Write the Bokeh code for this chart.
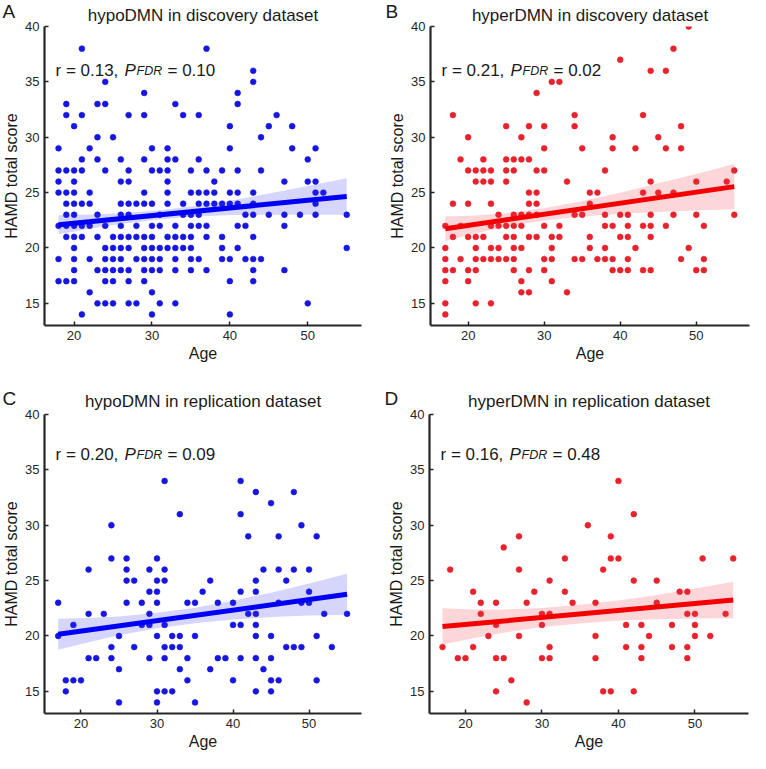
import numpy as np
from bokeh.plotting import figure
from bokeh.models import Label, FixedTicker, Range1d, Title
from bokeh.layouts import column, row
from bokeh.embed import file_html
from bokeh.resources import INLINE

A_levels = [38, 36, 35, 34, 33, 32, 31, 30, 29, 28, 27, 26, 25, 24, 23, 22, 21, 20, 19, 18, 17, 16, 15, 14]
A_ages = [
    [21, 37], [43], [24, 43], [29, 41], [19, 23, 24, 33, 41], [19, 21, 27, 29, 34, 36, 46],
    [20, 40, 45, 48], [23, 25, 44], [18, 22, 30, 32, 40, 48, 51], [21, 23, 26, 29, 32, 33, 36, 50],
    [18, 19, 20, 21, 24, 27, 30, 31, 32, 35, 37, 39, 41, 44],
    [18, 20, 26, 27, 32, 38, 47, 50, 51],
    [18, 19, 20, 22, 29, 32, 35, 36, 37, 38, 40, 41, 43, 51, 52],
    [19, 20, 21, 22, 26, 27, 28, 29, 30, 32, 34, 36, 37, 38, 39, 40, 41, 43, 51],
    [19, 20, 23, 26, 27, 31, 34, 35, 36, 42, 43, 45, 47, 49, 51, 55],
    [18, 19, 20, 21, 22, 24, 26, 28, 30, 31, 33, 35, 36, 37, 41, 42, 47],
    [19, 20, 21, 23, 25, 26, 27, 28, 29, 30, 32, 33, 34, 35, 37, 39, 43],
    [20, 24, 25, 26, 27, 29, 30, 31, 32, 33, 34, 35, 39, 41, 55],
    [18, 20, 22, 24, 25, 26, 28, 29, 30, 31, 33, 35, 36, 39, 40, 42, 43, 44],
    [20, 23, 24, 25, 26, 27, 29, 30, 31, 33, 35, 37, 43, 47],
    [18, 19, 20, 24, 25, 27, 29, 40, 43],
    [22, 30],
    [23, 24, 25, 27, 28, 31, 33, 50],
    [21, 30, 40],
]
A_fit_age = [18, 55]
A_fit_hamd = [22.10, 24.65]
A_band_age = [18, 22, 26, 31, 36, 40, 45, 50, 55]
A_band_hi = [22.95, 23.03, 23.13, 23.40, 23.84, 24.27, 24.91, 25.60, 26.30]
A_band_lo = [21.25, 21.73, 22.17, 22.60, 22.84, 22.97, 23.01, 23.00, 23.00]

B_levels = [40, 38, 37, 36, 35, 34, 32, 31, 30, 29, 28, 27, 26, 25, 24, 23, 22, 21, 20, 19, 18, 17, 16, 15, 14]
B_ages = [
    [49], [47], [40], [44, 46], [31, 32], [29], [18, 34, 43], [25, 28, 30, 34, 48], [20, 27, 39, 45],
    [30, 35, 39, 42, 46, 48], [19, 22, 25, 26, 27, 28],
    [20, 21, 22, 23, 25, 26, 29, 30, 38, 55],
    [21, 22, 23, 25, 33, 44, 50, 54],
    [28, 29, 36, 37, 43, 45, 47],
    [18, 20, 23, 28, 29, 36],
    [24, 26, 27, 28, 29, 34, 35, 38, 40, 41, 44, 47, 50, 55],
    [17, 19, 23, 24, 25, 26, 27, 30, 32, 38, 39, 41, 43, 44, 46, 51],
    [18, 20, 21, 22, 25, 26, 28, 29, 31, 32, 36, 40, 41, 44],
    [17, 21, 23, 24, 26, 27, 31, 36, 38, 42, 49],
    [17, 19, 21, 22, 23, 24, 25, 26, 30, 31, 34, 35, 37, 38, 39, 41, 48, 51],
    [17, 18, 20, 21, 26, 28, 30, 39, 40, 41, 43, 44, 50, 51],
    [17, 20, 27, 31],
    [27, 28, 33],
    [17, 21, 23],
    [17],
]
B_fit_age = [17, 55]
B_fit_hamd = [21.74, 25.54]
B_band_age = [17, 21, 25, 30, 35, 40, 45, 50, 55]
B_band_hi = [22.84, 22.94, 23.14, 23.59, 24.24, 24.99, 25.84, 26.69, 27.59]
B_band_lo = [20.64, 21.34, 21.94, 22.49, 22.84, 23.09, 23.24, 23.39, 23.49]

C_levels = [34, 33, 32, 31, 30, 29, 27, 26, 25, 24, 23, 22, 21, 20, 19, 18, 17, 16, 15, 14]
C_ages = [
    [31, 41], [43, 48], [45], [33, 41], [24, 49], [42, 46, 51], [24, 26, 30],
    [21, 26, 29, 31, 44, 46, 48, 50],
    [26, 27, 30, 31, 37, 43, 47],
    [29, 30, 36, 41, 43, 50],
    [17, 26, 28, 30, 34, 35, 38, 40, 46, 49, 50],
    [21, 23, 29, 42, 43, 52, 55],
    [19, 28, 29, 31, 40, 41, 43],
    [17, 25, 30, 32, 33, 35, 43, 45, 51],
    [24, 27, 31, 32, 33, 47, 48, 49, 53],
    [21, 22, 24, 29, 31, 34, 38, 39, 41, 43, 45],
    [25, 33, 37, 44],
    [18, 19, 20, 34, 40, 45, 46, 51],
    [18, 30, 31, 32, 43, 45],
    [25, 30, 35],
]
C_fit_age = [17, 55]
C_fit_hamd = [20.15, 23.76]
C_band_age = [17, 21, 25, 30, 35, 40, 45, 50, 55]
C_band_hi = [21.55, 21.63, 21.76, 22.09, 22.56, 23.19, 23.91, 24.74, 25.61]
C_band_lo = [18.75, 19.43, 20.06, 20.69, 21.16, 21.49, 21.71, 21.84, 21.91]

D_levels = [34, 31, 30, 29, 28, 27, 26, 25, 24, 23, 22, 21, 20, 19, 18, 16, 15, 14]
D_ages = [
    [40], [42], [36], [27, 39], [25], [33, 39, 40, 51, 55], [18, 27, 38], [31, 42, 45],
    [21, 29, 33, 48, 49], [22, 24, 28, 34, 37, 45], [22, 30, 31, 49, 50, 54],
    [24, 30, 41, 43, 47, 50], [23, 27, 37, 44, 50, 52], [17, 21, 31, 41, 43, 47, 49],
    [19, 20, 24, 25, 30, 31, 37, 43, 49], [26], [24, 38, 39, 42], [28],
]
D_fit_age = [17, 55]
D_fit_hamd = [20.85, 23.24]
D_band_age = [17, 21, 25, 30, 35, 40, 45, 50, 55]
D_band_hi = [22.50, 22.40, 22.40, 22.52, 22.83, 23.20, 23.71, 24.28, 24.89]
D_band_lo = [19.20, 19.80, 20.30, 20.82, 21.13, 21.40, 21.51, 21.58, 21.59]

titles = ["hypoDMN in discovery dataset", "hyperDMN in discovery dataset",
          "hypoDMN in replication dataset", "hyperDMN in replication dataset"]
letters = ["A", "B", "C", "D"]
r_values = ["0.13", "0.21", "0.20", "0.16"]
p_values = ["0.10", "0.02", "0.09", "0.48"]
x_ticks = [20, 30, 40, 50]
y_ticks = [15, 20, 25, 30, 35, 40]

FONT = "Liberation Sans"
TXT = "#1a1a1a"
BLUE_DOT, BLUE_LINE, BLUE_BAND = "#1616E0", "#0000F5", "#3030F0"
RED_DOT, RED_LINE, RED_BAND = "#E8222C", "#F50000", "#F03040"


def expand(levels, ages_rows):
    xs, ys = [], []
    for s, ages in zip(levels, ages_rows):
        xs += ages
        ys += [s] * len(ages)
    return xs, ys


def add_text(p, text, x, y, size, style="normal", align="left"):
    p.add_layout(Label(x=x, y=y, x_units="screen", y_units="screen", text=text,
                       text_font=FONT, text_font_size=f"{size}px", text_font_style=style,
                       text_align=align, text_baseline="alphabetic", text_color=TXT))


def style_title(t, text, size, align, offset, standoff):
    t.text = text
    t.align = align
    t.offset = offset
    t.standoff = standoff
    t.text_font = FONT
    t.text_font_size = f"{size}px"
    t.text_font_style = "normal"
    t.text_color = TXT


def panel(idx, levels, ages_rows, fit_age, fit_hamd, band_age, band_lo, band_hi,
          dot, line, band, xr, left, right, top, bottom, stat_gap, letter_dx, mode):
    xs, ys = expand(levels, ages_rows)
    p = figure(width=375, height=376, x_range=Range1d(*xr), y_range=Range1d(13, 40),
               output_backend="svg", toolbar_location=None,
               min_border_left=left, min_border_right=right,
               min_border_top=top, min_border_bottom=bottom)
    p.outline_line_color = None
    p.grid.visible = False
    p.background_fill_color = "white"
    p.border_fill_color = "white"

    p.scatter(xs, ys, size=5.8, fill_color=dot, line_color=dot, line_width=0.6)
    p.varea(x=band_age, y1=band_lo, y2=band_hi, fill_color=band, fill_alpha=0.2)
    p.line(fit_age, fit_hamd, line_color=line, line_width=5)

    for ax, ticks in ((p.xaxis[0], x_ticks), (p.yaxis[0], y_ticks)):
        ax.ticker = FixedTicker(ticks=ticks)
        ax.minor_tick_line_color = None
        ax.major_tick_in = 4
        ax.major_tick_out = 0
        ax.major_tick_line_width = 1.5
        ax.major_tick_line_color = "#262626"
        ax.axis_line_width = 2.2
        ax.axis_line_color = "#262626"
        ax.major_label_text_font = FONT
        ax.major_label_text_font_size = "13px"
        ax.major_label_text_color = "#262626"
        ax.axis_label_text_font = FONT
        ax.axis_label_text_font_size = "16px"
        ax.axis_label_text_font_style = "normal"
        ax.axis_label_text_color = TXT
    p.xaxis.axis_label = "Age"
    p.yaxis.axis_label = "HAMD total score"
    p.xaxis.major_label_standoff = 5
    p.yaxis.major_label_standoff = 5
    p.xaxis.axis_label_standoff = 2
    p.yaxis.axis_label_standoff = 2

    inner = Title()
    if mode == 1:
        # inner: subplot title; outer: panel letter pulled down onto the same row
        style_title(inner, titles[idx], 17, "center", 0, 4)
        p.add_layout(inner, "above")
        style_title(p.title, letters[idx], 19, "left", letter_dx, -40)
    else:
        # inner: panel letter; outer: subplot title pulled down onto the same row
        style_title(inner, letters[idx], 19, "left", letter_dx, 12)
        p.add_layout(inner, "above")
        style_title(p.title, titles[idx], 17, "center", 0, -62)

    fh = 376 - top - bottom
    by = fh - stat_gap
    add_text(p, f"r = {r_values[idx]},", 11, by, 17)
    add_text(p, "P", 80, by, 17, style="italic")
    add_text(p, "FDR", 92, by, 12.5, style="italic")
    add_text(p, f"= {p_values[idx]}", 123, by, 17)
    return p


pA = panel(0, A_levels, A_ages, A_fit_age, A_fit_hamd, A_band_age, A_band_lo, A_band_hi,
           BLUE_DOT, BLUE_LINE, BLUE_BAND, (16.2, 56.9), 42, 14, 26, 51, 44, -42, 1)
pB = panel(1, B_levels, B_ages, B_fit_age, B_fit_hamd, B_band_age, B_band_lo, B_band_hi,
           RED_DOT, RED_LINE, RED_BAND, (15.05, 57.0), 55, 1, 26, 51, 44, -45, 1)
pC = panel(2, C_levels, C_ages, C_fit_age, C_fit_hamd, C_band_age, C_band_lo, C_band_hi,
           BLUE_DOT, BLUE_LINE, BLUE_BAND, (15.2, 56.9), 42, 14, 38, 39, 40, -42, 2)
pD = panel(3, D_levels, D_ages, D_fit_age, D_fit_hamd, D_band_age, D_band_lo, D_band_hi,
           RED_DOT, RED_LINE, RED_BAND, (15.3, 57.0), 54, 2, 38, 39, 40, -45, 2)

layout = column(row(pA, pB), row(pC, pD))
open("out.html", "w").write(file_html(layout, INLINE))
